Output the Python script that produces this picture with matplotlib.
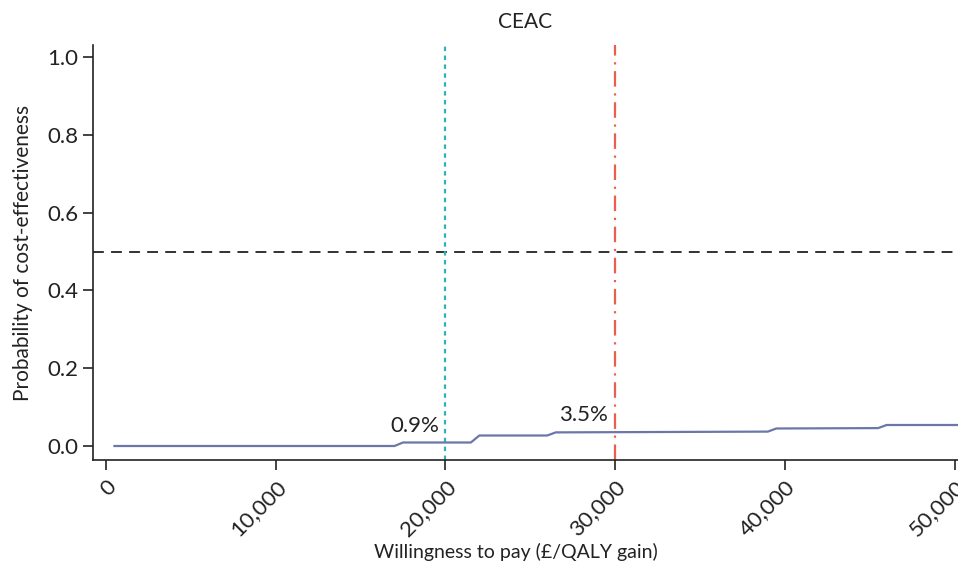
import matplotlib
matplotlib.use("Agg")
import matplotlib.pyplot as plt
from matplotlib.ticker import FuncFormatter

plt.rcParams['font.family'] = ['Lato', 'DejaVu Sans']

wtp = [500, 17000, 17500, 21500, 22000, 26000, 26500, 39000, 39500, 45500, 46000, 50500]
prob = [0.0, 0.0, 0.009, 0.009, 0.027, 0.027, 0.035, 0.037, 0.045, 0.046, 0.054, 0.054]
thresholds = [20000, 30000]
threshold_labels = ["0.9%", "3.5%"]
xticks = [0, 10000, 20000, 30000, 40000, 50000]
yticks = [0.0, 0.2, 0.4, 0.6, 0.8, 1.0]

W, H = 958, 564
fig = plt.figure(figsize=(W/100, H/100), dpi=100)
ax = fig.add_axes([93/W, (H-460)/H, (958-93)/W, (460-45)/H])

ax.plot(wtp, prob, color='#6b77a8', lw=1.6, zorder=3)
ax.axhline(0.5, color='#222222', ls=(0, (6, 4)), lw=1.3)
ax.axvline(thresholds[0], color='#2bb3bb', ls=(0, (2, 2)), lw=1.6)
ax.axvline(thresholds[1], color='#e8604c', ls=(0, (7, 3, 1, 3)), lw=1.6)

ax.text(thresholds[0] - 1800, 0.025, threshold_labels[0], fontsize=16, color='#222222', ha='center', va='bottom')
ax.text(thresholds[1] - 1850, 0.054, threshold_labels[1], fontsize=16, color='#222222', ha='center', va='bottom')

ax.set_xlim(-766, 50206)
ax.set_ylim(-0.036, 1.031)
ax.set_xticks(xticks)
ax.xaxis.set_major_formatter(FuncFormatter(lambda v, p: f"{int(v):,}"))
ax.set_yticks(yticks)
ax.yaxis.set_major_formatter(FuncFormatter(lambda v, p: f"{v:.1f}"))
ax.tick_params(axis='both', labelsize=16, colors='#222222', length=7, width=1.2)
ax.tick_params(axis='x', pad=5)
for lab in ax.get_xticklabels():
    lab.set_rotation(45)
    lab.set_ha('right')
    lab.set_rotation_mode('anchor')
ax.spines['top'].set_visible(False)
ax.spines['right'].set_visible(False)
for s in ['left', 'bottom']:
    ax.spines[s].set_linewidth(1.2)
    ax.spines[s].set_color('#222222')

ax.set_xlabel('Willingness to pay (£/QALY gain)', fontsize=14, color='#222222')
ax.xaxis.set_label_coords((516 - 93) / 865, (460 - 543) / 415)
ax.set_ylabel('Probability of cost-effectiveness', fontsize=15, color='#222222', labelpad=10)
ax.set_title('CEAC', fontsize=15, color='#222222', pad=12)

fig.savefig('out.png', dpi=100)
